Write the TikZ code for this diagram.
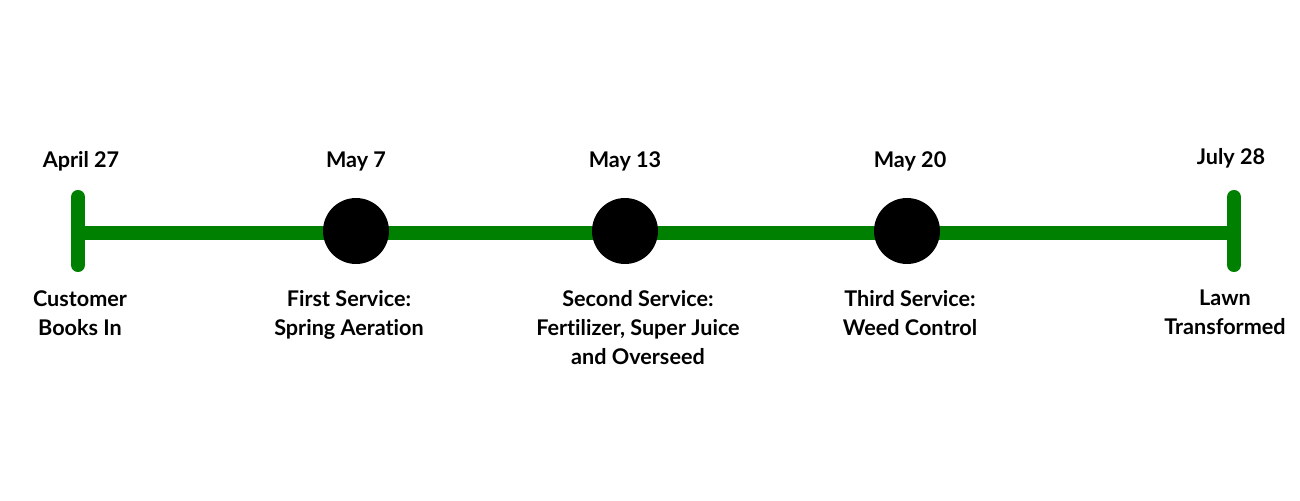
\documentclass[tikz,border=0pt]{standalone}
\usepackage{fontspec}
\setmainfont[Ligatures=NoCommon]{Lato}
\usetikzlibrary{positioning}

\tikzset{
  track/.style={draw=lawngreen, line width=8pt},
  endbar/.style={draw=lawngreen, line width=8pt, line cap=round},
  stop/.style={circle, fill=black, inner sep=0pt, minimum size=1.32cm},
  datelabel/.style={anchor=base, inner sep=0pt, font=\bfseries\fontsize{12.3}{16.5}\selectfont},
  tasklabel/.style={anchor=north, inner sep=0pt, align=center, font=\bfseries\fontsize{12.3}{16.5}\selectfont}
}
\definecolor{lawngreen}{HTML}{008000}

\begin{document}
\begin{tikzpicture}[x=0.02cm, y=-0.02cm]

\useasboundingbox (0,0) rectangle (1300,500);

% ends of the timeline
\coordinate (start) at (78,233);
\coordinate (finish) at (1234,233);

\draw[track] (start) -- (finish);
\draw[endbar] (78,197) -- (78,265);
\draw[endbar] (1234,197) -- (1234,265);

% service visits
\node[stop] (first) at (356,231) {};
\node[stop] (second) at (625,231) {};
\node[stop] (third) at (907,231) {};

% dates
\node[datelabel] (dstart) at (81,167.5) {April 27};
\node[datelabel] (dfirst) at (356,167.5) {May 7};
\node[datelabel] (dsecond) at (625,167.5) {May 13};
\node[datelabel] (dthird) at (910,167.5) {May 20};
\node[datelabel] (dfinish) at (1231,164.5) {July 28};

% what happens
\node[tasklabel] (tstart) at (80,290) {Customer\\Books In};
\node[tasklabel] (tfirst) at (349,290) {First Service:\\Spring Aeration};
\node[tasklabel] (tsecond) at (638,290) {Second Service:\\Fertilizer, Super Juice\\and Overseed};
\node[tasklabel] (tthird) at (910,290) {Third Service:\\Weed Control};
\node[tasklabel] (tfinish) at (1225,290) {Lawn\\Transformed};

\end{tikzpicture}
\end{document}
